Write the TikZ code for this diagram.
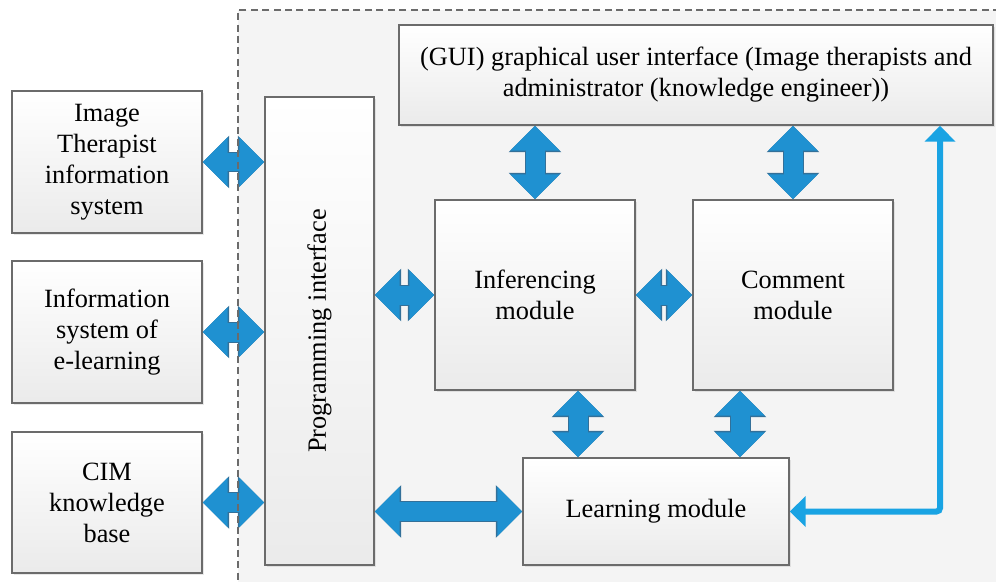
\documentclass[tikz,border=0pt]{standalone}
\usepackage{fontspec}
\setmainfont{Liberation Serif}
\usetikzlibrary{arrows.meta,shadows}

\newlength{\du}
\setlength{\du}{0.02cm}

\definecolor{boxline}{rgb}{0.420000, 0.420000, 0.420000}
\definecolor{arrowblue}{rgb}{0.120000, 0.570000, 0.820000}
\definecolor{arrowedge}{rgb}{0.200000, 0.440000, 0.600000}
\definecolor{flowblue}{rgb}{0.100000, 0.640000, 0.890000}
\definecolor{paneback}{rgb}{0.955000, 0.955000, 0.955000}

\tikzset{
  module/.style={draw=boxline, line width=0.8pt, top color=white, bottom color=black!8,
    align=center, inner sep=0pt, font=\fontsize{15}{17.6}\selectfont,
    drop shadow={opacity=0.18, shadow xshift=1pt, shadow yshift=-1pt}},
  modtext/.style={font=\fontsize{15}{17.6}\selectfont, align=center},
  biarrow/.style={draw=arrowblue, line width=0.38cm,
    {Triangle[length=0.5cm,width=0.96cm]}-{Triangle[length=0.5cm,width=0.96cm]},
    preaction={draw=arrowedge, line width=0.42cm,
      arrows={Triangle[length=0.53cm,width=1.02cm]-Triangle[length=0.53cm,width=1.02cm]}}},
  flowarrow/.style={draw=flowblue, line width=0.12cm, rounded corners=2pt,
    {Triangle[length=0.32cm,width=0.6cm]}-{Triangle[length=0.32cm,width=0.6cm]}},
  pane/.style={draw=boxline, line width=0.6pt, dash pattern=on 4pt off 2.5pt}
}

\begin{document}
\begin{tikzpicture}
\pgftransformxscale{1.000000}
\pgftransformyscale{-1.000000}
\useasboundingbox (0\du,0\du) rectangle (996\du,581\du);
% background pane
\fill[paneback] (238\du,10\du) rectangle (1000\du,590\du);
% outer systems
\node[module, minimum width=190\du, minimum height=142\du] (its) at (107\du,162\du) {Image\\Therapist\\information\\system};
\node[module, minimum width=190\du, minimum height=142\du] (isel) at (107\du,332\du) {Information\\system of\\e-learning};
\node[module, minimum width=190\du, minimum height=141\du] (cim) at (107\du,502.5\du) {CIM\\knowledge\\base};
% programming interface
\node[module, minimum width=109\du, minimum height=468\du] (pi) at (319.5\du,331\du) {};
\node[modtext, rotate=90] (pitext) at (pi.center) {Programming interface};
% modules
\node[module, minimum width=594\du, minimum height=100\du] (gui) at (696\du,75\du) {(GUI) graphical user interface (Image therapists and\\administrator (knowledge engineer))};
\node[module, minimum width=200\du, minimum height=190\du] (inf) at (535\du,295\du) {Inferencing\\module};
\node[module, minimum width=200\du, minimum height=190\du] (com) at (793\du,295\du) {Comment\\module};
\node[module, minimum width=266\du, minimum height=107\du] (lm) at (656\du,511.5\du) {Learning module};
% block arrows
\draw[biarrow] (its.east) -- (pi.west |- its.east);
\draw[biarrow] (isel.east) -- (pi.west |- isel.east);
\draw[biarrow] (cim.east) -- (pi.west |- cim.east);
\draw[biarrow] (pi.east |- inf.west) -- (inf.west);
\draw[biarrow] (inf.east) -- (com.west);
\draw[biarrow] (pi.east |- lm.west) -- (lm.west);
\draw[biarrow] (gui.south -| inf.north) -- (inf.north);
\draw[biarrow] (gui.south -| com.north) -- (com.north);
\coordinate (ilx) at (578\du,0\du);
\coordinate (clx) at (740\du,0\du);
\draw[biarrow] (inf.south -| ilx) -- (lm.north -| ilx);
\draw[biarrow] (com.south -| clx) -- (lm.north -| clx);
% feedback line
\coordinate (turn) at (940\du,0\du);
\draw[flowarrow] (lm.east) -- (lm.east -| turn) -- (turn |- gui.south);
% dashed border
\draw[pane] (1000\du,10\du) -- (238\du,10\du) -- (238\du,590\du);
\end{tikzpicture}
\end{document}
